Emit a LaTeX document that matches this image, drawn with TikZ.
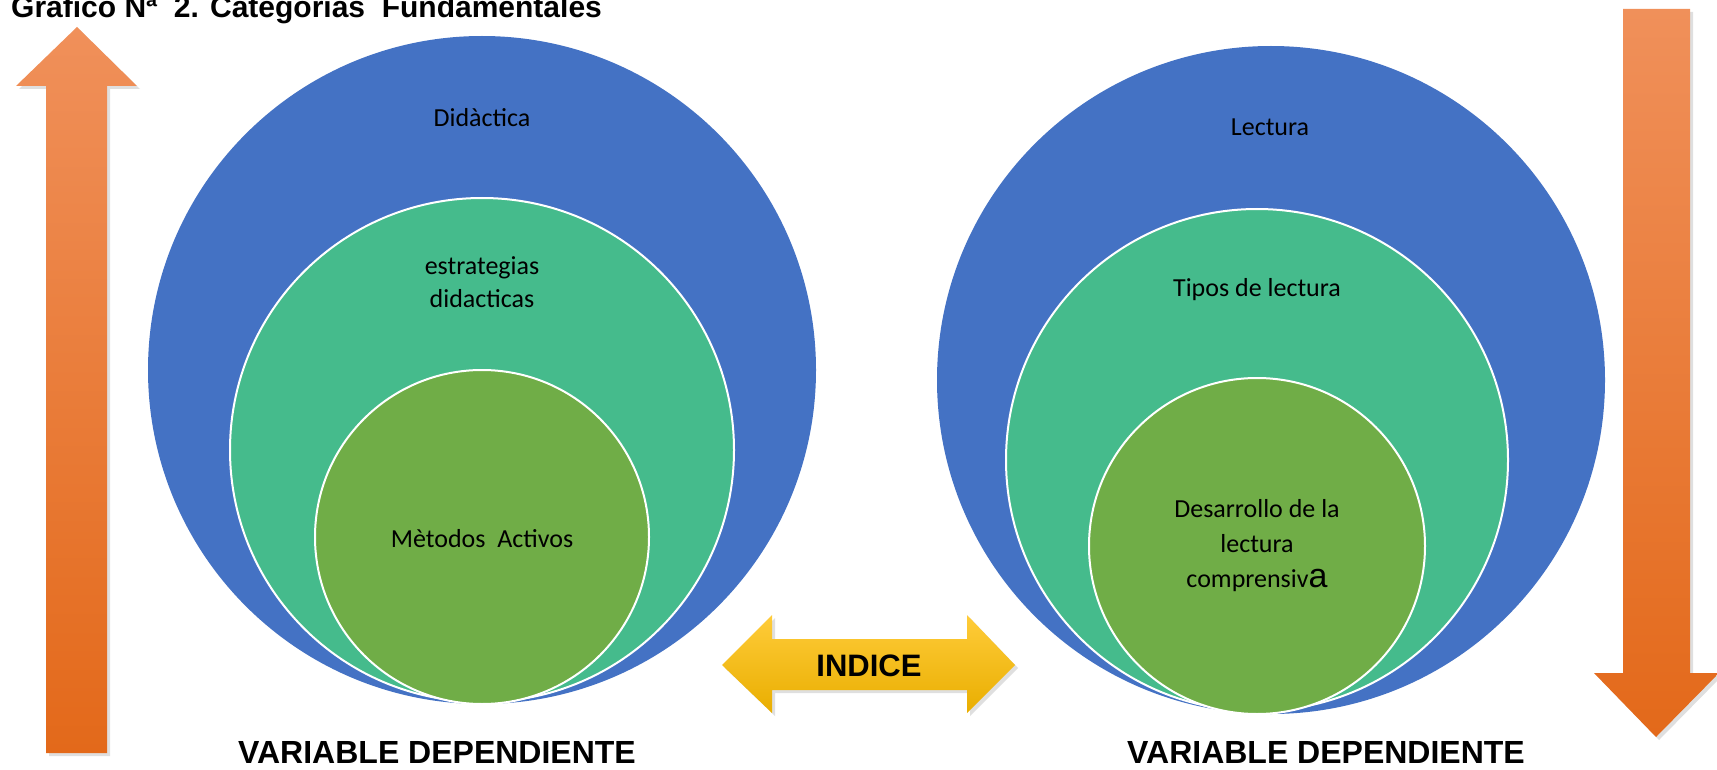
\documentclass[tikz,border=0pt]{standalone}
\usepackage{fontspec}
\setmainfont{Carlito}
\newfontfamily\arialfont{Liberation Sans}
\usepackage{xcolor}
\usepackage{tikz}
\usetikzlibrary{positioning, shadows}

\definecolor{azul}{HTML}{4472C4}
\definecolor{verde}{HTML}{45BB8C}
\definecolor{oliva}{HTML}{70AD47}
\definecolor{naranjaA}{HTML}{F0905A}
\definecolor{naranjaB}{HTML}{F47E2C}
\definecolor{naranjaC}{HTML}{E3691A}
\definecolor{amarilloA}{HTML}{FFCC3A}
\definecolor{amarilloB}{HTML}{FFC000}
\definecolor{amarilloC}{HTML}{E9AE00}

\begin{document}
\begin{tikzpicture}[
        x=1pt, y=-1pt,
        circulo/.style={circle, inner sep=0pt, outer sep=0pt},
        anillo/.style={circulo, draw=white, line width=2pt},
        etiqueta/.style={font=\fontsize{26}{33}\selectfont, align=center, text=black},
        negrita/.style={font=\arialfont\bfseries\fontsize{31}{36}\selectfont, text=black},
        flecha/.style={top color=naranjaA, middle color=naranjaB, bottom color=naranjaC,
            drop shadow={opacity=0.25, shadow xshift=3pt, shadow yshift=-3pt}},
        doble/.style={top color=amarilloA, middle color=amarilloB, bottom color=amarilloC,
            drop shadow={opacity=0.25, shadow xshift=3pt, shadow yshift=-3pt}},
    ]
        \useasboundingbox (0,0) rectangle (1717,770);

        % Titulo
        \node[negrita, font=\arialfont\bfseries\fontsize{30}{36}\selectfont, anchor=base west, inner sep=0pt] (titulo) at (11,18) {Grafico Nª \ 2. Categorias \ Fundamentales};

        % Circulos izquierda
        \node[circulo, fill=azul, minimum size=668pt] (didC) at (482,370) {};
        \node[anillo, fill=verde, minimum size=504pt] (estC) at (482,450) {};
        \node[anillo, fill=oliva, minimum size=334pt] (metC) at (482,537) {};

        % Circulos derecha
        \node[circulo, fill=azul, minimum size=668pt] (lecC) at (1271,380) {};
        \node[anillo, fill=verde, minimum size=502pt] (tipC) at (1257,460) {};
        \node[anillo, fill=oliva, minimum size=336pt] (desC) at (1257,546) {};

        % Textos
        \node[etiqueta] (didactica) at (482,118) {Didàctica};
        \node[etiqueta] (estrategias) at (482,282) {estrategias\\didacticas};
        \node[etiqueta] (metodos) at (482,539) {Mètodos \ Activos};
        \node[etiqueta] (lectura) at (1270,127) {Lectura};
        \node[etiqueta] (tipos) at (1257,290) {Tipos de lectura};
        \node[etiqueta, font=\fontsize{26}{35}\selectfont] (desarrollo) at (1257,546) {Desarrollo de la\\lectura\\comprensiv{\arialfont\fontsize{34}{35}\selectfont a}};

        % Flechas
        \path[flecha] (46,753) -- (46,86) -- (16,86) -- (77,27) -- (137,86) -- (107,86) -- (107,753) -- cycle;
        \path[flecha] (1623,9) -- (1690,9) -- (1690,673) -- (1719,673) -- (1656,737) -- (1594,673) -- (1623,673) -- cycle;
        \path[doble] (722,665) -- (772,615) -- (772,639) -- (967,639) -- (967,615) -- (1015,665)
            -- (967,713) -- (967,690) -- (772,690) -- (772,713) -- cycle;
        \node[negrita] (indice) at (869,666) {INDICE};

        % Variables
        \node[negrita, font=\arialfont\bfseries\fontsize{32}{36}\selectfont, anchor=base] (varIzq) at (437,763) {VARIABLE DEPENDIENTE};
        \node[negrita, font=\arialfont\bfseries\fontsize{32}{36}\selectfont, anchor=base] (varDer) at (1326,763) {VARIABLE DEPENDIENTE};
    \end{tikzpicture}
\end{document}
